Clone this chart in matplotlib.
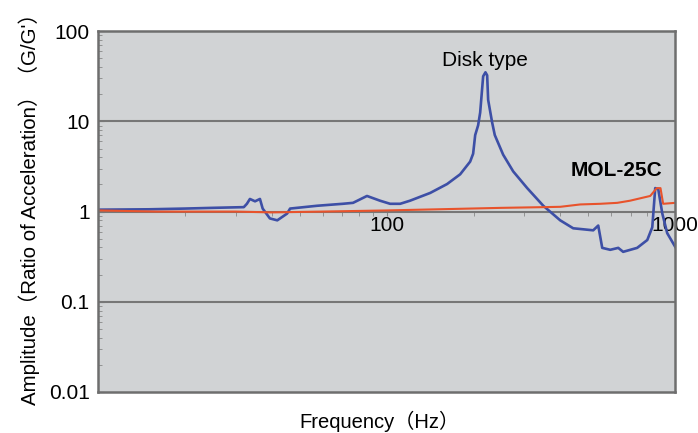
import numpy as np
import matplotlib.pyplot as plt
from matplotlib.ticker import LogLocator, NullFormatter, FixedLocator

plt.rcParams['font.family'] = ['Liberation Sans', 'Noto Sans CJK JP', 'DejaVu Sans']

# Disk type response (Hz, G/G')
disk_freq = [10, 15, 20, 25, 32.0, 32.8, 33.6, 35.0, 36.4, 37.2, 39.4, 41.8, 45.2, 46.3,
             57.4, 70.5, 76.5, 85.5, 94.9, 102.8, 111.4, 120.5, 141.6, 162, 179.8,
             194.7, 199.4, 202.7, 207.5, 210.9, 216, 220, 223, 224.8, 232, 237, 253.4,
             274.5, 307, 349, 399.4, 443, 519.7, 541, 558.5, 595.4, 634.6, 660, 738,
             800, 832.5, 852.4, 873, 902, 938, 1000]
disk_amp = [1.05, 1.06, 1.08, 1.1, 1.12, 1.22, 1.38, 1.3, 1.38, 1.08, 0.84, 0.8, 0.95, 1.08,
            1.16, 1.22, 1.25, 1.49, 1.32, 1.22, 1.22, 1.32, 1.61, 2.02, 2.59,
            3.58, 4.38, 7.05, 9.04, 12.5, 31.6, 35, 32.4, 17.3, 9.76, 7.05, 4.27,
            2.79, 1.82, 1.16, 0.80, 0.653, 0.62, 0.70, 0.396, 0.377, 0.396, 0.358, 0.396,
            0.484, 0.67, 1.82, 1.78, 0.95, 0.576, 0.406]

# MOL-25C response
mol_freq = [10, 16, 30, 40, 60, 100, 150, 250, 350, 400, 468.6, 550, 629.6, 697, 819,
            863, 889, 908, 1000]
mol_amp = [1.03, 1.0, 1.0, 0.98, 1.0, 1.03, 1.06, 1.1, 1.12, 1.13, 1.2, 1.22, 1.25, 1.32, 1.49,
           1.82, 1.82, 1.22, 1.25]

fig = plt.figure(figsize=(6.98, 4.33), dpi=100)
ax = fig.add_axes([0.1404, 0.0947, 0.827, 0.8333])
ax.set_facecolor('#d1d3d5')

ax.plot(disk_freq, disk_amp, color='#3d4fa6', lw=1.9)
ax.plot(mol_freq, mol_amp, color='#e8532c', lw=1.5)

ax.set_xscale('log')
ax.set_yscale('log')
ax.set_xlim(10, 1000)
ax.set_ylim(0.01, 100)

for v in [10, 1, 0.1]:
    ax.axhline(v, color='#777777', lw=1.5, zorder=0.5)

for s in ax.spines.values():
    s.set_color('#6e6e6e')
    s.set_linewidth(1.8)

ax.set_yticks([0.01, 0.1, 1, 10, 100])
ax.set_yticklabels(['0.01', '0.1', '1', '10', '100'])
ax.yaxis.set_minor_locator(LogLocator(base=10, subs=np.arange(2, 10)))
ax.yaxis.set_minor_formatter(NullFormatter())
ax.tick_params(axis='y', which='major', direction='in', length=4, labelsize=15, pad=6, color='#777777')
ax.tick_params(axis='y', which='minor', direction='in', length=3, color='#888888')
ax.set_xticks([])
ax.xaxis.set_minor_locator(FixedLocator([]))

# x axis drawn along the y=1 line
sec = ax.secondary_xaxis(0.4999)
sec.spines['bottom'].set_visible(False)
sec.spines['top'].set_visible(False)
sec.set_xticks([100, 1000])
sec.set_xticklabels(['100', '1000'])
sec.xaxis.set_minor_locator(LogLocator(base=10, subs=np.arange(2, 10)))
sec.xaxis.set_minor_formatter(NullFormatter())
sec.tick_params(axis='x', which='major', length=3, labelsize=15, pad=0, color='#888888')
sec.tick_params(axis='x', which='minor', length=3, color='#888888')

ax.text(219.5, 40.6, 'Disk type', fontsize=15, ha='center', va='baseline')
ax.text(624, 2.46, 'MOL-25C', fontsize=15, ha='center', va='baseline', fontweight='bold')

ax.set_ylabel("Amplitude（Ratio of Acceleration）（G/G'）", fontsize=14.8, va='center')
ax.yaxis.set_label_coords(-0.12, 0.521)
fig.text(0.544, 0.0115, 'Frequency（Hz）', fontsize=14.5, ha='center', va='baseline')

fig.savefig('out.png', dpi=100)
